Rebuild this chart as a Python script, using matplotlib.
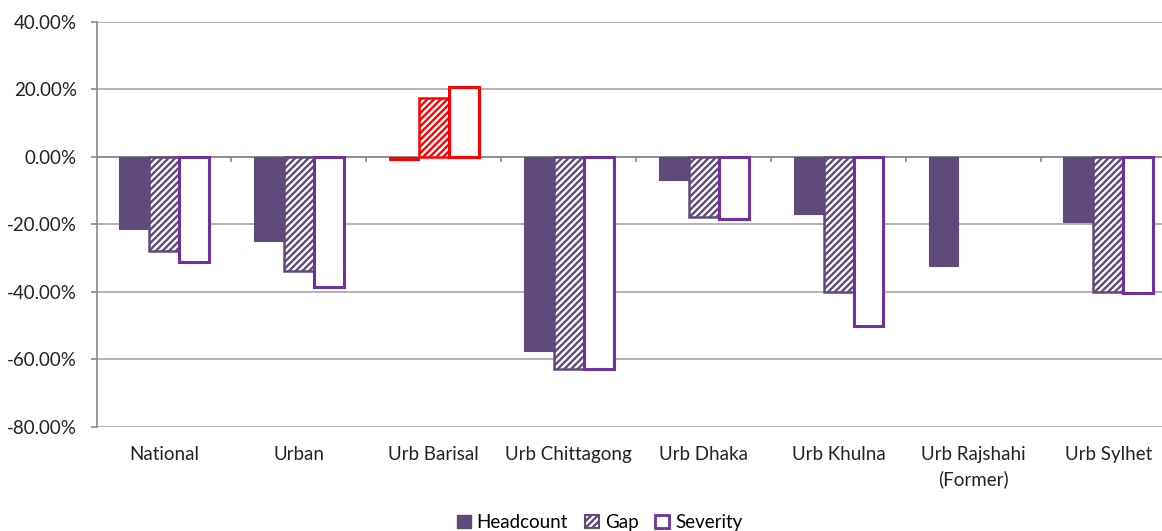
import numpy as np
import matplotlib
matplotlib.use("Agg")
from matplotlib import pyplot as plt
from matplotlib.patches import Patch
from matplotlib.ticker import FuncFormatter

# data (percent)
categories = ["National", "Urban", "Urb Barisal", "Urb Chittagong", "Urb Dhaka",
              "Urb Khulna", "Urb Rajshahi\n(Former)", "Urb Sylhet"]
headcount = [-21.4, -24.9, -0.9, -57.4, -6.8, -17.0, -32.2, -19.4]
gap = [-27.8, -33.9, 17.4, -62.8, -17.7, -40.0, np.nan, -40.0]
severity = [-31.2, -38.4, 20.8, -62.7, -18.4, -50.0, np.nan, -40.3]
highlight = "Urb Barisal"

purple = "#604A7B"
violet = "#7030A0"
red = "#FF0000"
grid_col = "#A6A6A6"

plt.rcParams['font.family'] = ['Lato', 'DejaVu Sans']
plt.rcParams['hatch.linewidth'] = 1.7

fig = plt.figure(figsize=(11.62, 5.31), dpi=100)
ax = fig.add_axes([0.0831, 0.1959, 0.9288, 0.7627])

x = np.arange(len(categories))
w = 0.222

for i, cat in enumerate(categories):
    is_hl = cat == highlight
    c_head = red if is_hl else purple
    c_gap = red if is_hl else purple
    c_sev = red if is_hl else violet
    ax.bar(x[i] - w, headcount[i], w, color=c_head, edgecolor=c_head, linewidth=0.8, zorder=3)
    if not np.isnan(gap[i]):
        ax.bar(x[i], gap[i], w, color="white", edgecolor=c_gap, hatch="/////",
               linewidth=1.8, zorder=3)
    if not np.isnan(severity[i]):
        ax.bar(x[i] + w, severity[i], w, color="white", edgecolor=c_sev,
               linewidth=2.2, zorder=3)

ax.set_xlim(-0.5, len(categories) - 0.5)
ax.set_ylim(-80, 40)
ax.set_yticks(np.arange(-80, 41, 20))
ax.yaxis.set_major_formatter(FuncFormatter(lambda v, p: f"{v:.2f}%"))
ax.grid(axis="y", color=grid_col, linewidth=1.2, zorder=0)

# zero line with category boundary ticks
ax.axhline(0, color="#888888", linewidth=1.2, zorder=2)
ax.vlines(x[:-1] + 0.5, -1.6, 0, color="#888888", linewidth=1.2, zorder=2)

ax.set_xticks(x)
ax.set_xticklabels(categories, fontsize=13.5, color="#222222", linespacing=1.45)
ax.tick_params(axis="x", length=0, pad=14)
ax.tick_params(axis="y", length=4.3, color="#888888", width=1.2, pad=10,
               labelsize=13.5, labelcolor="#222222")

for s in ["top", "right", "bottom"]:
    ax.spines[s].set_visible(False)
ax.spines["left"].set_color("#888888")
ax.spines["left"].set_linewidth(1.2)

handles = [
    Patch(facecolor=purple, edgecolor=purple, label="Headcount"),
    Patch(facecolor="white", edgecolor=purple, hatch="/////", linewidth=1.5, label="Gap"),
    Patch(facecolor="white", edgecolor=violet, linewidth=2, label="Severity"),
]
fig.legend(handles=handles, loc="center", bbox_to_anchor=(0.516, 0.016), ncol=3,
           frameon=False, fontsize=13.5, handlelength=0.75, handleheight=0.75,
           handletextpad=0.3, columnspacing=0.9)

fig.savefig("out.png", dpi=100)
